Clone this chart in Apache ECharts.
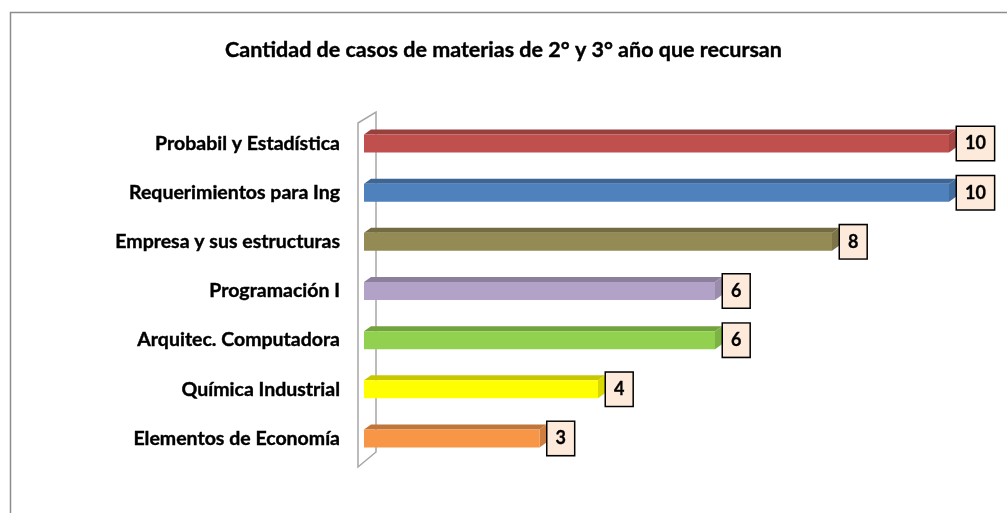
<!DOCTYPE html>
<html>
<head>
<meta charset="utf-8">
<script src="https://cdn.jsdelivr.net/npm/echarts@6/dist/echarts.min.js"></script>
<style>
  html, body { margin: 0; padding: 0; background: #fff; }
  #chart { width: 1007px; height: 513px; }
</style>
</head>
<body>
<div id="chart"></div>
<script>
const categories = [
  "Probabil y Estadística",
  "Requerimientos para Ing",
  "Empresa y sus estructuras",
  "Programación I",
  "Arquitec. Computadora",
  "Química Industrial",
  "Elementos de Economía"
];
const values = [10, 10, 8, 6, 6, 4, 3];
const colors = ["#C0504D", "#4F81BD", "#948A54", "#B3A2C7", "#92D050", "#FFFF00", "#F79646"];
const topColors = ["#97403D", "#3E6594", "#736B41", "#8C7F9C", "#72A33E", "#C8C800", "#C0753A"];
const sideColors = ["#A54543", "#436D9F", "#7D7448", "#9A8CAB", "#7DB345", "#D9D900", "#D07E3F"];

const chart = echarts.init(document.getElementById("chart"));

// barra "3D": frente + cara superior + lateral, y la etiqueta en caja
function renderBar(params, api) {
  const v = api.value(0);
  const i = api.value(1);
  const p0 = api.coord([0, i]);
  const p1 = api.coord([v, i]);
  const h = 18, dx = 7, dy = 5;
  const x0 = p0[0], x1 = p1[0], c = p0[1];
  const t = c - h / 2, b = c + h / 2;
  return {
    type: "group",
    children: [
      {
        type: "polygon",
        shape: { points: [[x0, t], [x0 + dx, t - dy], [x1 + dx, t - dy], [x1, t]] },
        style: { fill: topColors[i] }
      },
      {
        type: "polygon",
        shape: { points: [[x1, t], [x1 + dx, t - dy], [x1 + dx, b - dy], [x1, b]] },
        style: { fill: sideColors[i] }
      },
      {
        type: "rect",
        shape: { x: x0, y: t, width: x1 - x0, height: h },
        style: { fill: colors[i] }
      },
      {
        type: "text",
        x: x1 + 8,
        y: c,
        style: {
          text: String(v),
          fontFamily: "Lato",
          fontWeight: "bold",
          fontSize: 18,
          lineHeight: 20,
          fill: "#000",
          stroke: "#000",
          lineWidth: 0.3,
          verticalAlign: "middle",
          align: "left",
          backgroundColor: "#FDEADA",
          borderColor: "#000",
          borderWidth: 1.5,
          padding: [7, 8, 6, 8]
        }
      }
    ]
  };
}

// pared lateral gris del gráfico
function renderWall(params, api) {
  const cs = params.coordSys;
  const fx = cs.x - 6, bx = cs.x + 12;
  return {
    type: "polygon",
    shape: {
      points: [
        [fx, cs.y + 4], [bx, cs.y - 7],
        [bx, cs.y + cs.height - 11], [fx, cs.y + cs.height + 4]
      ]
    },
    style: { fill: "#fff", stroke: "#A6A6A6", lineWidth: 1.5 }
  };
}

const option = {
  backgroundColor: "#fff",
  animation: false,
  title: {
    text: "Cantidad de casos de materias de 2° y 3° año que recursan",
    left: "center",
    top: 34,
    textStyle: {
      fontFamily: "Lato", fontWeight: "bold", fontSize: 21.5, color: "#000",
      textBorderColor: "#000", textBorderWidth: 0.4
    }
  },
  graphic: [
    {
      type: "rect",
      left: 8, top: 10,
      shape: { width: 1020, height: 530 },
      style: { fill: "none", stroke: "#8C8C8C", lineWidth: 1.5 },
      silent: true
    }
  ],
  grid: { left: 364, top: 119, width: 585, height: 344 },
  xAxis: {
    type: "value",
    min: 0,
    max: 10,
    show: false
  },
  yAxis: {
    type: "category",
    data: categories,
    inverse: true,
    axisLine: { show: false },
    axisTick: { show: false },
    axisLabel: {
      margin: 24,
      fontFamily: "Lato",
      fontWeight: "bold",
      fontSize: 19.5,
      color: "#000",
      textBorderColor: "#000",
      textBorderWidth: 0.4,
      padding: [6, 0, 0, 0]
    }
  },
  series: [
    {
      type: "custom",
      name: "wall",
      data: [[0, 0]],
      renderItem: renderWall,
      z: 1,
      silent: true
    },
    {
      type: "custom",
      name: "casos",
      data: values.map((v, i) => [v, i]),
      encode: { x: 0, y: 1 },
      renderItem: renderBar,
      z: 2
    }
  ]
};

chart.setOption(option);
</script>
</body>
</html>
